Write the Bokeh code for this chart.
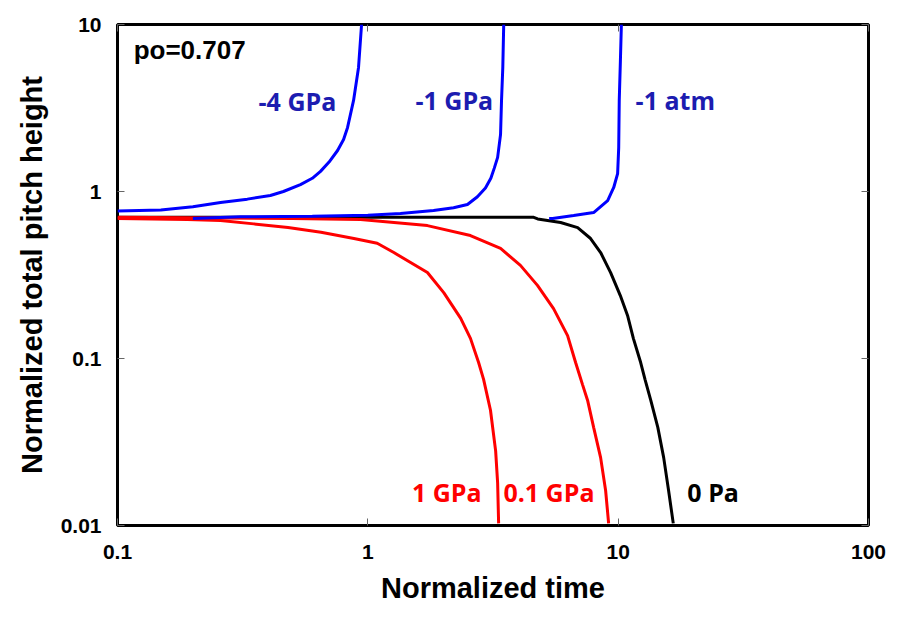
from bokeh.plotting import figure
from bokeh.models import Range1d, FixedTicker, CustomJSTickFormatter, Label, LogAxis
from bokeh.embed import file_html
from bokeh.resources import INLINE

# ---- data ----
x_ticks = [0.1, 1, 10, 100]
y_ticks = [0.01, 0.1, 1, 10]

# -4 GPa (blue)
neg4_x = [0.1, 0.149, 0.2, 0.258, 0.33, 0.408, 0.46, 0.538, 0.6, 0.647, 0.7, 0.757, 0.8, 0.83, 0.877, 0.918, 0.944]
neg4_y = [0.765, 0.775, 0.81, 0.86, 0.90, 0.946, 1.0, 1.1, 1.2, 1.32, 1.5, 1.76, 2.05, 2.42, 3.51, 5.53, 10.0]

# -1 GPa (blue)
neg1_x = [0.2, 0.31, 0.6, 1.0, 1.35, 1.83, 2.2, 2.5, 2.74, 2.95, 3.1, 3.2, 3.3, 3.39, 3.42, 3.46, 3.49]
neg1_y = [0.69, 0.705, 0.712, 0.72, 0.738, 0.769, 0.80, 0.836, 0.93, 1.05, 1.2, 1.38, 1.6, 2.2, 3.5, 5.5, 10.0]

# -1 atm (blue)
atm_x = [5.3, 5.47, 6.64, 7.98, 9.08, 9.6, 9.95, 10.05, 10.1, 10.2, 10.3]
atm_y = [0.69, 0.69, 0.718, 0.748, 0.883, 1.057, 1.28, 1.83, 3.51, 5.84, 10.0]

# 0 Pa (black)
zero_x = [0.1, 1.0, 4.6, 4.77, 5.89, 6.89, 7.76, 8.51, 9.33, 10.2, 10.9, 11.5, 12.3, 12.8, 13.5, 14.4, 15.2, 15.9, 16.6]
zero_y = [0.70, 0.70, 0.70, 0.685, 0.652, 0.608, 0.523, 0.431, 0.327, 0.238, 0.181, 0.132, 0.0946, 0.075, 0.0561, 0.0387, 0.0255, 0.0162, 0.0103]

# 0.1 GPa (red)
p01_x = [0.1, 0.5, 0.935, 1.73, 2.57, 3.39, 4.07, 4.76, 5.52, 6.28, 6.76, 7.2, 7.55, 7.98, 8.51, 8.91, 9.16]
p01_y = [0.70, 0.69, 0.679, 0.625, 0.545, 0.456, 0.361, 0.274, 0.199, 0.137, 0.0946, 0.07, 0.0561, 0.0387, 0.0255, 0.0162, 0.0103]

# 1 GPa (red)
p1_x = [0.1, 0.19, 0.258, 0.35, 0.48, 0.65, 0.88, 1.09, 1.27, 1.73, 2.01, 2.35, 2.57, 2.77, 2.9, 3.09, 3.24, 3.30, 3.33]
p1_y = [0.69, 0.68, 0.67, 0.64, 0.608, 0.57, 0.523, 0.49, 0.431, 0.327, 0.248, 0.174, 0.132, 0.0946, 0.075, 0.049, 0.028, 0.018, 0.0103]

labels = [
    # text, x, y, color, font, size
    ("po=0.707", 0.116, 7.08, "black", "Liberation Sans", "26px"),
    ("-4 GPa", 0.366, 3.46, "#1c1cb0", "Open Sans", "25px"),
    ("-1 GPa", 1.55, 3.55, "#1c1cb0", "Open Sans", "25px"),
    ("-1 atm", 11.74, 3.55, "#1c1cb0", "Open Sans", "25px"),
    ("1 GPa", 1.50, 0.0158, "#ff0000", "Open Sans", "25px"),
    ("0.1 GPa", 3.48, 0.0158, "#ff0000", "Open Sans", "25px"),
    ("0 Pa", 18.9, 0.0158, "black", "Open Sans", "25px"),
]

p = figure(width=892, height=608, x_axis_type="log", y_axis_type="log",
           x_range=Range1d(0.1, 100), y_range=Range1d(0.01, 10),
           output_backend="svg", toolbar_location=None,
           min_border_left=117, min_border_right=24, min_border_top=24, min_border_bottom=83,
           background_fill_color="white", border_fill_color="white")

p.xgrid.visible = False
p.ygrid.visible = False
p.outline_line_color = "black"
p.outline_line_width = 3

fmt = "return tick.toString();"
for ax, tks in ((p.xaxis[0], x_ticks), (p.yaxis[0], y_ticks)):
    ax.ticker = FixedTicker(ticks=tks)
    ax.formatter = CustomJSTickFormatter(code=fmt)
    ax.axis_line_color = None
    ax.major_tick_in = 7
    ax.major_tick_out = 0
    ax.major_tick_line_color = "#666666"
    ax.major_tick_line_width = 1
    ax.minor_tick_line_color = None
    ax.major_label_text_font = "Liberation Sans"
    ax.major_label_text_font_style = "bold"
    ax.major_label_text_font_size = "21px"
    ax.major_label_text_color = "black"
    ax.axis_label_text_font = "Liberation Sans"
    ax.axis_label_text_font_style = "bold"
    ax.axis_label_text_font_size = "29px"
    ax.axis_label_text_color = "black"

p.xaxis.axis_label = "Normalized time"
p.yaxis.axis_label = "Normalized total pitch height"
p.xaxis.major_label_standoff = 19
p.yaxis.major_label_standoff = 16
p.xaxis.axis_label_standoff = 10
p.yaxis.axis_label_standoff = 10

# tick marks on top and right (labels invisible)
for loc, tks in (("above", x_ticks), ("right", y_ticks)):
    ax2 = LogAxis(ticker=FixedTicker(ticks=tks), formatter=CustomJSTickFormatter(code=fmt),
                  major_label_text_font_size="6px", major_label_text_alpha=0.0,
                  major_label_standoff=0, major_tick_in=7, major_tick_out=0,
                  major_tick_line_color="#666666", minor_tick_line_color=None,
                  axis_line_color=None)
    p.add_layout(ax2, loc)

lw = 3
p.line(zero_x, zero_y, line_color="black", line_width=lw)
p.line(p1_x, p1_y, line_color="#ff0000", line_width=lw)
p.line(p01_x, p01_y, line_color="#ff0000", line_width=lw)
p.line(neg4_x, neg4_y, line_color="#0000ff", line_width=lw)
p.line(neg1_x, neg1_y, line_color="#0000ff", line_width=lw)
p.line(atm_x, atm_y, line_color="#0000ff", line_width=lw)

for txt, lx, ly, col, font, size in labels:
    p.add_layout(Label(x=lx, y=ly, text=txt, text_color=col, text_font=font,
                       text_font_size=size, text_font_style="bold",
                       text_align="left", text_baseline="middle"))

open("out.html", "w").write(file_html(p, INLINE))
